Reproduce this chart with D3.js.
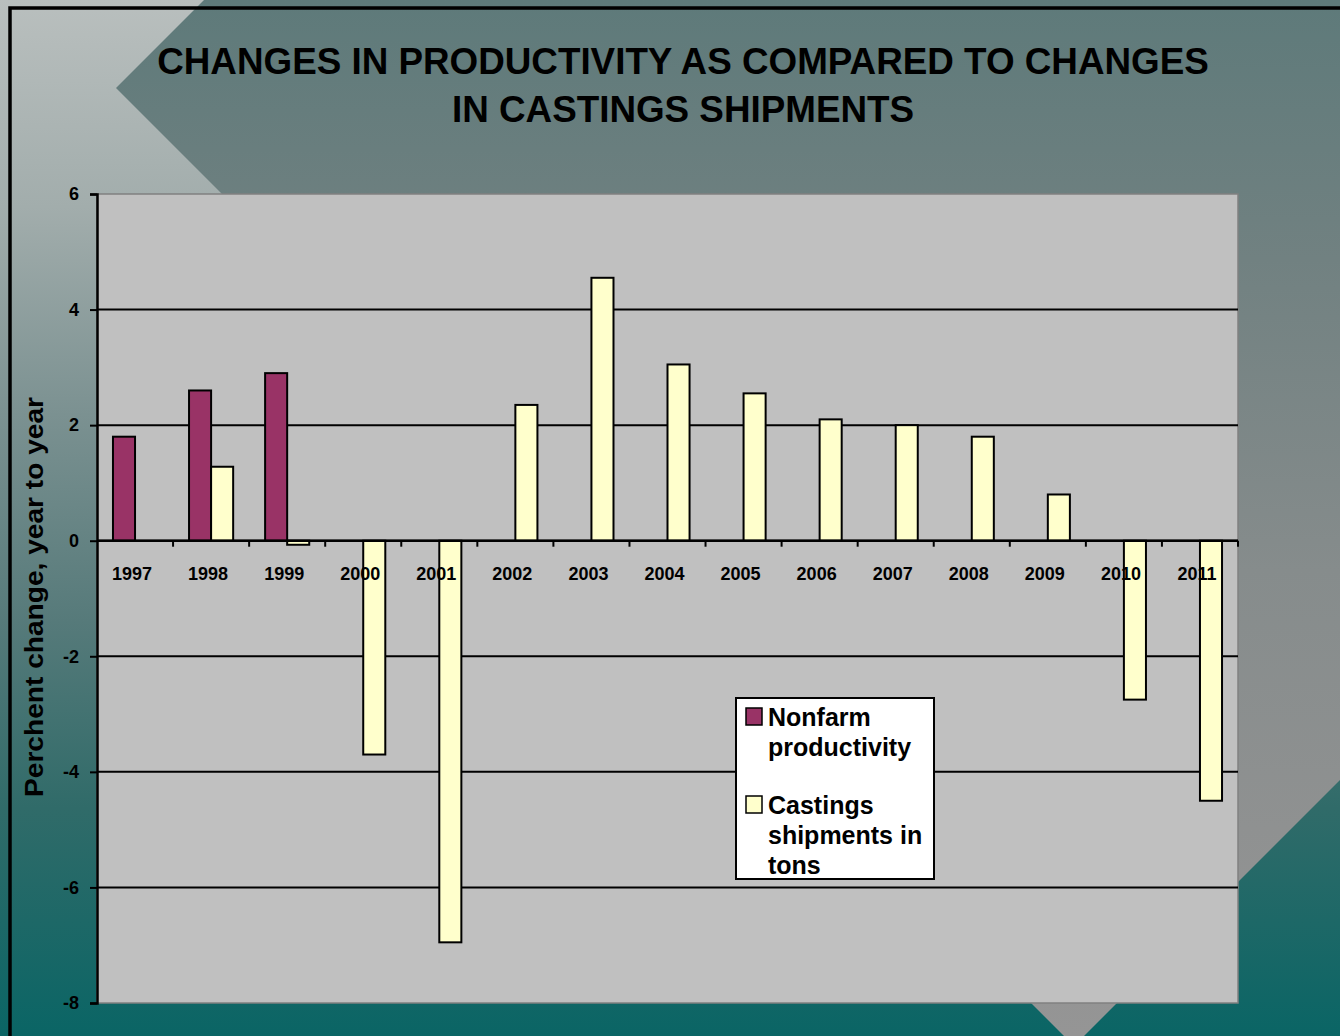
<!DOCTYPE html>
<html><head><meta charset="utf-8">
<script src="https://cdn.jsdelivr.net/npm/d3@7"></script>
<style>html,body{margin:0;padding:0;overflow:hidden;background:#fff}svg{display:block}</style>
</head><body>
<script>
const years = ['1997','1998','1999','2000','2001','2002','2003','2004','2005','2006','2007','2008','2009','2010','2011'];
const nonfarm = [1.8, 2.6, 2.9, null, null, null, null, null, null, null, null, null, null, null, null];
const castings = [null, 1.28, -0.07, -3.7, -6.95, 2.35, 4.55, 3.05, 2.55, 2.1, 2.0, 1.8, 0.8, -2.75, -4.5];
const seriesNames = ['Nonfarm productivity', 'Castings shipments in tons'];
const seriesColors = ['#993366', '#FFFFCC'];
const yTicks = [-8, -6, -4, -2, 0, 2, 4, 6];
const yTickLabels = ['-8', '-6', '-4', '-2', '0', '2', '4', '6'];
const titleLines = ['CHANGES IN PRODUCTIVITY AS COMPARED TO CHANGES', 'IN CASTINGS SHIPMENTS'];
const yTitle = 'Perchent change, year to year';
const legendLines = [['Nonfarm', 'productivity'], ['Castings', 'shipments in', 'tons']];

const W = 1340, H = 1036;
const font = 'Arial, "Liberation Sans", Helvetica, sans-serif';
const svg = d3.select('body').append('svg').attr('width', W).attr('height', H);
const defs = svg.append('defs');

const g1 = defs.append('linearGradient').attr('id','bgGrad').attr('gradientUnits','userSpaceOnUse')
  .attr('x1',0).attr('y1',0).attr('x2',0).attr('y2',H);
[[0,'#b9bfbe'],[0.2,'#a2adac'],[0.4,'#7b9191'],[0.6,'#567a7a'],[0.78,'#306b69'],[1,'#0a6565']]
  .forEach(([o,c]) => g1.append('stop').attr('offset',o).attr('stop-color',c));
const g2 = defs.append('linearGradient').attr('id','shapeGrad').attr('gradientUnits','userSpaceOnUse')
  .attr('x1',0).attr('y1',0).attr('x2',0).attr('y2',H);
[[0,'#5e7a7a'],[0.25,'#718181'],[0.55,'#868c8c'],[0.8,'#8f9191'],[1,'#959595']]
  .forEach(([o,c]) => g2.append('stop').attr('offset',o).attr('stop-color',c));

// slide background
svg.append('rect').attr('width', W).attr('height', H).attr('fill', 'url(#bgGrad)');
const L = [116, 88], B = [1074, 1046], t = 2000;
svg.append('polygon')
  .attr('points', [L, B, [B[0]+t, B[1]-t], [L[0]+t, L[1]-t]].map(p => p.join(',')).join(' '))
  .attr('fill', 'url(#shapeGrad)');
svg.append('rect').attr('x', 10).attr('y', 8).attr('width', 3000).attr('height', 3000)
  .attr('fill', 'none').attr('stroke', '#000').attr('stroke-width', 3.5);

// title
svg.append('g').selectAll('text').data(titleLines).join('text')
  .attr('x', 683).attr('y', (d, i) => 74 + i * 48)
  .attr('text-anchor', 'middle').style('font-family', font).style('font-weight', 'bold')
  .style('font-size', '36.8px').attr('fill', '#000').text(d => d);

// plot
const pl = 97, pr = 1238, pt = 194, pb = 1003;
const x0 = d3.scaleBand().domain(years).range([pl, pr]).paddingInner(0).paddingOuter(0);
const bw = x0.bandwidth();
const x1 = d3.scaleBand().domain([0, 1]).range([bw * 0.21, bw * 0.79]);
const y = d3.scaleLinear().domain([-8, 6]).range([pb, pt]);

svg.append('rect').attr('x', pl).attr('y', pt).attr('width', pr - pl).attr('height', pb - pt)
  .attr('fill', '#c0c0c0').attr('stroke', '#808080').attr('stroke-width', 1.5);

// gridlines
svg.append('g').selectAll('line').data(yTicks.filter(v => v > -8 && v < 6)).join('line')
  .attr('x1', pl).attr('x2', pr).attr('y1', d => y(d)).attr('y2', d => y(d))
  .attr('stroke', '#000').attr('stroke-width', 2);

// bars
const data = years.map((yr, i) => ({ yr, vals: [nonfarm[i], castings[i]] }));
const bars = svg.append('g');
data.forEach(d => {
  d.vals.forEach((v, k) => {
    if (v === null) return;
    bars.append('rect')
      .attr('x', x0(d.yr) + x1(k))
      .attr('y', y(Math.max(0, v)))
      .attr('width', x1.bandwidth())
      .attr('height', Math.abs(y(v) - y(0)))
      .attr('fill', seriesColors[k]).attr('stroke', '#000').attr('stroke-width', 2);
  });
});

// y axis
const yAxis = svg.append('g').attr('transform', `translate(${pl},0)`)
  .call(d3.axisLeft(y).tickValues(yTicks).tickSize(7).tickPadding(11)
    .tickFormat((d, i) => yTickLabels[i]));
yAxis.select('.domain').attr('stroke', '#000').attr('stroke-width', 2.5);
yAxis.selectAll('.tick line').attr('stroke', '#000').attr('stroke-width', 2);
yAxis.selectAll('.tick text').style('font-family', font).style('font-weight', 'bold')
  .style('font-size', '18px').attr('fill', '#000');

// x axis at zero
const xg = svg.append('g').attr('transform', `translate(0,${y(0)})`);
xg.append('line').attr('x1', pl).attr('x2', pr).attr('stroke', '#000').attr('stroke-width', 2.5);
xg.selectAll('line.tk').data(years.slice(1).concat(['end'])).join('line').attr('class', 'tk')
  .attr('x1', d => d === 'end' ? pr : x0(d)).attr('x2', d => d === 'end' ? pr : x0(d))
  .attr('y1', 0).attr('y2', 6).attr('stroke', '#000').attr('stroke-width', 2);
xg.selectAll('text').data(years).join('text')
  .attr('x', d => x0(d) + bw / 2 - 3).attr('y', 39)
  .attr('text-anchor', 'middle').style('font-family', font).style('font-weight', 'bold')
  .style('font-size', '18px').attr('fill', '#000').text(d => d);

// y title
svg.append('text').attr('transform', 'translate(43,597) rotate(-90)')
  .attr('text-anchor', 'middle').style('font-family', font).style('font-weight', 'bold')
  .style('font-size', '26px').attr('textLength', 400).attr('lengthAdjust', 'spacingAndGlyphs')
  .attr('fill', '#000').text(yTitle);

// legend
const lg = svg.append('g');
lg.append('rect').attr('x', 736).attr('y', 698).attr('width', 198).attr('height', 181)
  .attr('fill', '#fff').attr('stroke', '#000').attr('stroke-width', 2);
const legendTop = [708, 796];
seriesNames.forEach((n, k) => {
  lg.append('rect').attr('x', 746).attr('y', legendTop[k]).attr('width', 16).attr('height', 17)
    .attr('fill', seriesColors[k]).attr('stroke', '#000').attr('stroke-width', 1.5);
  lg.append('g').selectAll('text').data(legendLines[k]).join('text')
    .attr('x', 768).attr('y', (d, i) => legendTop[k] + 18 + i * 30)
    .style('font-family', font).style('font-weight', 'bold').style('font-size', '25px')
    .attr('fill', '#000').text(d => d);
});
</script>
</body></html>
